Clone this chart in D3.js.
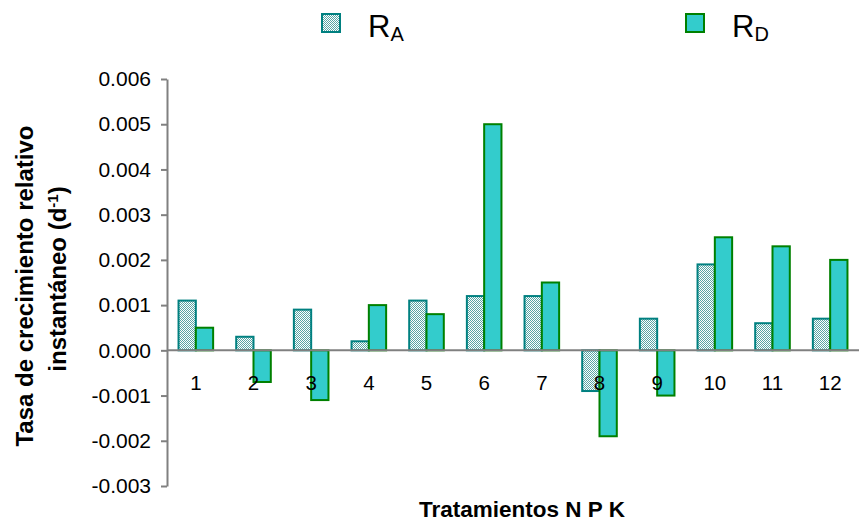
<!DOCTYPE html>
<html>
<head>
<meta charset="utf-8">
<script src="https://cdn.jsdelivr.net/npm/d3@7"></script>
<style>
  body { margin: 0; background: #fff; }
  text { font-family: "Liberation Sans", Arial, sans-serif; }
</style>
</head>
<body>
<div id="chart"></div>
<script>
  // data
  var tratamientos = ["1", "2", "3", "4", "5", "6", "7", "8", "9", "10", "11", "12"];
  var rA = [0.0011, 0.0003, 0.0009, 0.0002, 0.0011, 0.0012, 0.0012, -0.0009, 0.0007, 0.0019, 0.0006, 0.0007];
  var rD = [0.0005, -0.0007, -0.0011, 0.0010, 0.0008, 0.0050, 0.0015, -0.0019, -0.0010, 0.0025, 0.0023, 0.0020];
  var yTicks = [-0.003, -0.002, -0.001, 0, 0.001, 0.002, 0.003, 0.004, 0.005, 0.006];

(function() {
  var width = 860, height = 522;
  var plotLeft = 167, plotRight = 859, plotTop = 79, plotBottom = 486;

  var svg = d3.select("#chart").append("svg")
    .attr("width", width).attr("height", height);

  var defs = svg.append("defs");
  var pat = defs.append("pattern").attr("id", "checks")
    .attr("width", 2).attr("height", 2).attr("patternUnits", "userSpaceOnUse");
  pat.append("rect").attr("width", 2).attr("height", 2).attr("fill", "#ffffff");
  pat.append("rect").attr("width", 1).attr("height", 1).attr("fill", "#5aa5a5");
  pat.append("rect").attr("x", 1).attr("y", 1).attr("width", 1).attr("height", 1).attr("fill", "#5aa5a5");

  var y = d3.scaleLinear().domain([-0.003, 0.006]).range([plotBottom, plotTop]);
  var x = d3.scaleBand().domain(tratamientos).range([plotLeft, plotRight]).paddingInner(0.4).paddingOuter(0.2);
  var xs = d3.scaleBand().domain(["A", "D"]).range([0, x.bandwidth()]);

  // bars
  var series = [
    { key: "A", vals: rA, fill: "url(#checks)", stroke: "#008080" },
    { key: "D", vals: rD, fill: "#33cccc", stroke: "#008000" }
  ];
  series.forEach(function(s) {
    svg.append("g").selectAll("rect").data(s.vals).enter().append("rect")
      .attr("x", function(d, i) { return x(tratamientos[i]) + xs(s.key); })
      .attr("y", function(d) { return y(Math.max(0, d)); })
      .attr("width", xs.bandwidth())
      .attr("height", function(d) { return Math.abs(y(d) - y(0)); })
      .attr("fill", s.fill)
      .attr("stroke", s.stroke)
      .attr("stroke-width", 2);
  });

  // y axis (plain hyphen for negatives, like the original)
  var fmt = d3.format(".3f");
  var yAxis = svg.append("g").attr("transform", "translate(" + plotLeft + ",0)")
    .call(d3.axisLeft(y).tickValues(yTicks).tickSize(6).tickSizeOuter(0).tickPadding(10)
      .tickFormat(function(d) { return fmt(d).replace("\u2212", "-"); }));
  yAxis.select(".domain").attr("stroke", "#808080").attr("stroke-width", 2);
  yAxis.selectAll(".tick line").attr("stroke", "#808080").attr("stroke-width", 2);
  yAxis.selectAll(".tick text").attr("font-size", 21).attr("fill", "#000")
    .attr("font-family", "Liberation Sans, Arial, sans-serif");

  // zero line
  svg.append("line")
    .attr("x1", plotLeft).attr("x2", plotRight)
    .attr("y1", y(0)).attr("y2", y(0))
    .attr("stroke", "#808080").attr("stroke-width", 2);

  // category labels
  svg.append("g").selectAll("text").data(tratamientos).enter().append("text")
    .attr("x", function(d) { return x(d) + x.bandwidth() / 2; })
    .attr("y", y(0) + 40)
    .attr("text-anchor", "middle")
    .attr("font-size", 20.5)
    .text(function(d) { return d; });

  // axis titles
  svg.append("text")
    .attr("x", 522).attr("y", 517)
    .attr("text-anchor", "middle")
    .attr("font-size", 22.5).attr("font-weight", "bold")
    .text("Tratamientos N P K");

  svg.append("text")
    .attr("transform", "translate(33,286) rotate(-90)")
    .attr("text-anchor", "middle")
    .attr("font-size", 24).attr("font-weight", "bold")
    .text("Tasa de crecimiento relativo");
  var l2 = svg.append("text")
    .attr("transform", "translate(66,279) rotate(-90)")
    .attr("text-anchor", "middle")
    .attr("font-size", 24).attr("font-weight", "bold");
  l2.append("tspan").text("instantáneo (d");
  l2.append("tspan").attr("baseline-shift", "super").attr("font-size", 15).text("-1");
  l2.append("tspan").text(")");

  // legend
  var legend = [
    { sub: "A", fill: "url(#checks)", stroke: "#008080", x: 322 },
    { sub: "D", fill: "#33cccc", stroke: "#008000", x: 686 }
  ];
  var lg = svg.append("g").selectAll("g").data(legend).enter().append("g");
  lg.append("rect")
    .attr("x", function(d) { return d.x; }).attr("y", 14)
    .attr("width", 18).attr("height", 18)
    .attr("fill", function(d) { return d.fill; })
    .attr("stroke", function(d) { return d.stroke; })
    .attr("stroke-width", 2);
  var lt = lg.append("text")
    .attr("x", function(d) { return d.x + 46; }).attr("y", 37)
    .attr("font-size", 31);
  lt.append("tspan").text("R");
  lt.append("tspan").attr("font-size", 20).attr("dy", 4).text(function(d) { return d.sub; });
}).call(this);
</script>
</body>
</html>
